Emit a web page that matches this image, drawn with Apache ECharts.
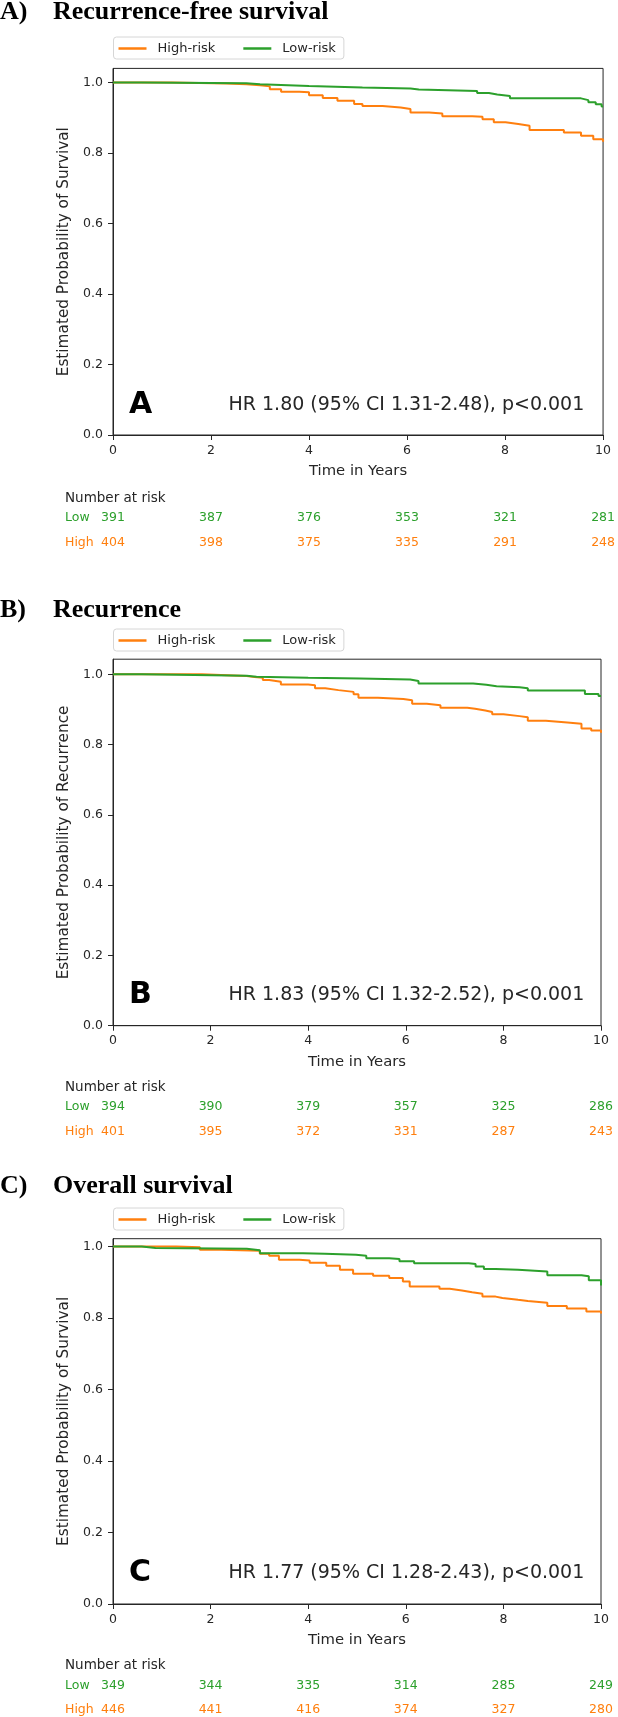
<!DOCTYPE html>
<html><head><meta charset="utf-8">
<script src="https://cdn.jsdelivr.net/npm/echarts@6/dist/echarts.min.js"></script>
<style>html,body{margin:0;padding:0;background:#fff}#c{width:618px;height:1717px}</style>
</head><body><div id="c"></div>
<script>
// ---------- data ----------
const panelLetters = ['A', 'B', 'C'];
const panelTitles = ['Recurrence-free survival', 'Recurrence', 'Overall survival'];
const yAxisTitles = ['Estimated Probability of Survival', 'Estimated Probability of Recurrence', 'Estimated Probability of Survival'];
const xAxisTitle = 'Time in Years';
const hrTexts = ['HR 1.80 (95% CI 1.31-2.48), p<0.001', 'HR 1.83 (95% CI 1.32-2.52), p<0.001', 'HR 1.77 (95% CI 1.28-2.43), p<0.001'];
const seriesNames = ['High-risk', 'Low-risk'];
const riskRowLabels = ['Low', 'High'];
const riskHeader = 'Number at risk';
const xTicks = [0, 2, 4, 6, 8, 10];
const yTicks = [0, 0.2, 0.4, 0.6, 0.8, 1.0];

// Panel A: recurrence-free survival
const highTimeA = [0, 1.2, 2.31, 2.72, 3.0, 3.2, 3.43, 3.8, 4.0, 4.28, 4.58, 4.92, 5.09, 5.5, 5.87, 6.07, 6.45, 6.72, 7.33, 7.54, 7.77, 8.01, 8.27, 8.5, 9.2, 9.55, 9.8, 10];
const highSurvA = [1.0, 0.997, 0.995, 0.992, 0.989, 0.981, 0.974, 0.972, 0.964, 0.956, 0.948, 0.939, 0.933, 0.929, 0.925, 0.915, 0.912, 0.904, 0.903, 0.896, 0.887, 0.882, 0.877, 0.865, 0.858, 0.849, 0.839, 0.832];
const lowTimeA = [0, 0.58, 2.72, 3.0, 4.0, 5.09, 6.07, 6.24, 7.43, 7.67, 7.84, 8.1, 9.55, 9.7, 9.85, 9.97, 10];
const lowSurvA = [1.0, 0.998, 0.995, 0.99, 0.986, 0.983, 0.98, 0.976, 0.97, 0.966, 0.962, 0.955, 0.95, 0.944, 0.938, 0.932, 0.932];
const riskLowA = [391, 387, 376, 353, 321, 281];
const riskHighA = [404, 398, 375, 335, 291, 248];

// Panel B: recurrence
const highTimeB = [0, 1.82, 2.74, 2.9, 3.07, 3.2, 3.44, 4.0, 4.14, 4.35, 4.62, 4.93, 5.03, 5.43, 5.95, 6.13, 6.43, 6.71, 7.26, 7.42, 7.63, 7.77, 8.0, 8.33, 8.5, 8.87, 9.31, 9.6, 9.8, 10];
const highSurvB = [1.0, 0.995, 0.992, 0.99, 0.984, 0.979, 0.971, 0.969, 0.96, 0.955, 0.95, 0.943, 0.933, 0.93, 0.926, 0.916, 0.912, 0.905, 0.902, 0.897, 0.893, 0.886, 0.881, 0.878, 0.868, 0.863, 0.859, 0.846, 0.84, 0.834];
const lowTimeB = [0, 0.59, 2.74, 2.94, 4.0, 5.06, 6.09, 6.26, 7.38, 7.65, 7.86, 8.33, 8.5, 9.67, 9.95, 10];
const lowSurvB = [1.0, 0.996, 0.993, 0.99, 0.988, 0.985, 0.981, 0.974, 0.97, 0.966, 0.963, 0.96, 0.954, 0.944, 0.938, 0.937];
const riskLowB = [394, 390, 379, 357, 325, 286];
const riskHighB = [401, 395, 372, 331, 287, 243];

// Panel C: overall survival
const highTimeC = [0, 1.3, 1.78, 2.22, 3.01, 3.2, 3.4, 3.82, 4.03, 4.37, 4.65, 4.92, 5.33, 5.66, 5.94, 6.08, 6.69, 6.9, 7.15, 7.36, 7.57, 7.84, 7.98, 8.3, 8.5, 8.9, 9.3, 9.7, 10];
const highSurvC = [1.0, 0.998, 0.991, 0.988, 0.98, 0.974, 0.963, 0.961, 0.955, 0.946, 0.935, 0.924, 0.918, 0.912, 0.902, 0.888, 0.882, 0.877, 0.872, 0.868, 0.86, 0.856, 0.851, 0.848, 0.843, 0.834, 0.827, 0.818, 0.813];
const lowTimeC = [0, 0.59, 0.87, 2.74, 3.01, 3.89, 4.34, 4.98, 5.19, 5.66, 5.87, 6.17, 7.29, 7.43, 7.6, 7.84, 8.3, 8.9, 9.6, 9.75, 10];
const lowSurvC = [1.0, 0.996, 0.994, 0.99, 0.981, 0.98, 0.977, 0.974, 0.967, 0.965, 0.959, 0.953, 0.951, 0.944, 0.937, 0.935, 0.93, 0.92, 0.917, 0.906, 0.891];
const riskLowC = [349, 344, 335, 314, 285, 249];
const riskHighC = [446, 441, 416, 374, 327, 280];

// ---------- assembly ----------
const HIGH_COLOR = '#ff7f0e', LOW_COLOR = '#2ca02c', INK = '#262626';
const FONT = '"DejaVu Sans", sans-serif';
const SERIF = '"Liberation Serif", "Times New Roman", serif';
const zip = (a, b) => a.map((v, i) => [v, b[i]]);
const curves = [
  [zip(highTimeA, highSurvA), zip(lowTimeA, lowSurvA)],
  [zip(highTimeB, highSurvB), zip(lowTimeB, lowSurvB)],
  [zip(highTimeC, highSurvC), zip(lowTimeC, lowSurvC)]
];
const risks = [[riskLowA, riskHighA], [riskLowB, riskHighB], [riskLowC, riskHighC]];

const layout = [
  { top: 68.4, h: 366.6, w: 492, ymax: 1.04, titleY: 12, legendTop: 37, hrY: 405, nrY: 498, rowY: [518, 543] },
  { top: 659.2, h: 366.5, w: 488, ymax: 1.043, titleY: 610, legendTop: 629, hrY: 995, nrY: 1087, rowY: [1107, 1132] },
  { top: 1238.7, h: 365.3, w: 488, ymax: 1.022, titleY: 1186.5, legendTop: 1208, hrY: 1573, nrY: 1665, rowY: [1685.5, 1710] }
];
const LEFT = 113;

const txt = (x, y, text, font, fill, z) => ({
  type: 'text', x, y, z: z || 5,
  style: { text, font, fill, align: 'left', verticalAlign: 'middle', textAlign: 'left', textVerticalAlign: 'middle' }
});

const grid = [], xAxis = [], yAxis = [], series = [], legend = [], graphic = [];
layout.forEach((L, p) => {
  const bottom = L.top + L.h;
  grid.push({ left: LEFT, top: L.top, width: L.w, height: L.h, show: true, borderColor: INK, borderWidth: 1, backgroundColor: 'transparent' });
  // main time axis
  xAxis.push({
    type: 'value', gridIndex: p, min: 0, max: 10, interval: 2,
    name: xAxisTitle, nameLocation: 'middle', nameGap: 29,
    nameTextStyle: { fontFamily: FONT, fontSize: 14.8, color: INK },
    axisLine: { show: true, lineStyle: { color: INK, width: 1 } },
    axisTick: { show: true, inside: false, length: 5, lineStyle: { color: INK } },
    axisLabel: { margin: 9, fontFamily: FONT, fontSize: 12.5, color: INK },
    splitLine: { show: false }
  });
  // number-at-risk rows as extra axes sharing the time scale
  [LOW_COLOR, HIGH_COLOR].forEach((col, r) => {
    const arr = risks[p][r];
    xAxis.push({
      type: 'value', gridIndex: p, min: 0, max: 10, interval: 2, position: 'bottom',
      offset: L.rowY[r] - bottom,
      axisLine: { show: false }, axisTick: { show: false }, splitLine: { show: false },
      axisLabel: { margin: 0, verticalAlign: 'middle', fontFamily: FONT, fontSize: 12.5, color: col,
        formatter: v => { const i = xTicks.indexOf(v); return i >= 0 ? String(arr[i]) : ''; } }
    });
  });
  yAxis.push({
    type: 'value', gridIndex: p, min: 0, max: L.ymax,
    name: yAxisTitles[p], nameLocation: 'middle', nameGap: 41, nameRotate: 90,
    nameTextStyle: { fontFamily: FONT, fontSize: 15.3, color: INK },
    axisLine: { show: true, lineStyle: { color: INK, width: 1 } },
    axisTick: { show: true, length: 5, lineStyle: { color: INK }, customValues: yTicks },
    axisLabel: { margin: 10, fontFamily: FONT, fontSize: 12.5, color: INK, customValues: yTicks, formatter: v => v.toFixed(1) },
    splitLine: { show: false }
  });
  const xi = p * 3;
  [HIGH_COLOR, LOW_COLOR].forEach((col, s) => {
    series.push({
      name: seriesNames[s], type: 'line', step: 'end', xAxisIndex: xi, yAxisIndex: p,
      data: curves[p][s], showSymbol: false, symbol: 'none', silent: true, animation: false,
      lineStyle: { color: col, width: 2 }, itemStyle: { color: col }, z: 2 + s
    });
  });
  legend.push({
    data: seriesNames, left: 113.5, top: L.legendTop, orient: 'horizontal',
    icon: 'rect', itemWidth: 28, itemHeight: 2.5, itemGap: 28,
    padding: [5, 8, 4, 5], borderColor: '#d6d6d6', borderWidth: 1, borderRadius: 3,
    backgroundColor: '#fff', selectedMode: false,
    textStyle: { fontFamily: FONT, fontSize: 13, color: INK, padding: [0, 0, 0, 6] }
  });
  // titles
  graphic.push(txt(0, L.titleY, panelLetters[p] + ')', 'bold 26px ' + SERIF, '#000'));
  graphic.push(txt(53, L.titleY, panelTitles[p], 'bold 26px ' + SERIF, '#000'));
  // panel letter & HR annotation
  graphic.push(txt(129, L.hrY, panelLetters[p], 'bold 30px ' + FONT, '#000', 10));
  graphic.push(txt(228.5, L.hrY, hrTexts[p], '19px ' + FONT, INK, 10));
  // number at risk labels
  graphic.push(txt(65, L.nrY, riskHeader, '13.5px ' + FONT, INK));
  [LOW_COLOR, HIGH_COLOR].forEach((col, r) => {
    graphic.push(txt(65, L.rowY[r], riskRowLabels[r], '12.5px ' + FONT, col));
  });
});

const chart = echarts.init(document.getElementById('c'), null, { renderer: 'canvas' });
chart.setOption({
  backgroundColor: '#fff', animation: false,
  grid, xAxis, yAxis, series, legend, graphic
});
</script></body></html>
